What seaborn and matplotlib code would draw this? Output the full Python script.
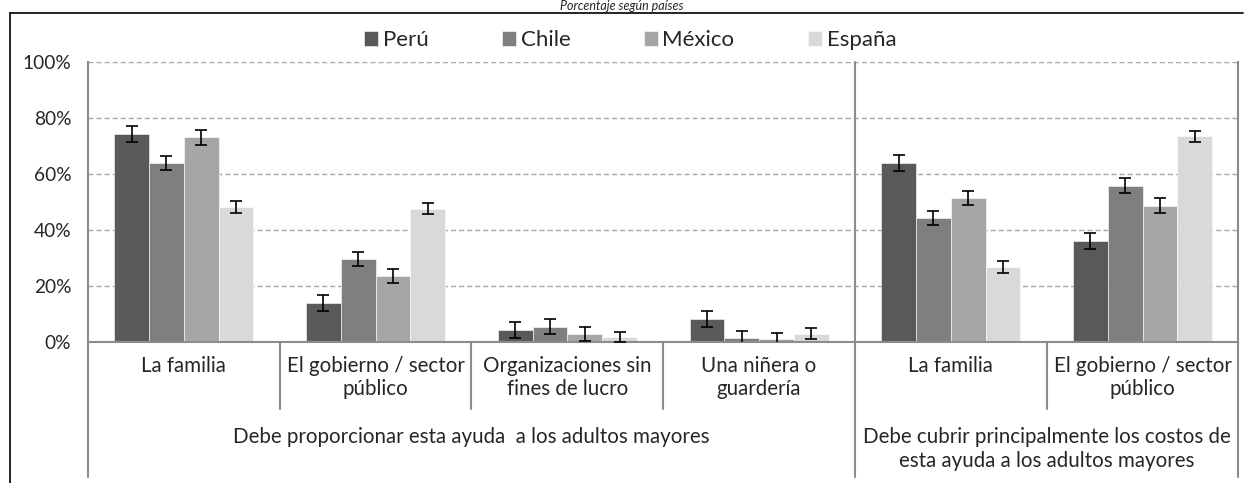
import numpy as np
import pandas as pd
import matplotlib
matplotlib.use("Agg")
import matplotlib.pyplot as plt
import seaborn as sns
from matplotlib.lines import Line2D

# ---------------- data ----------------
group_keys = ["g1", "g2", "g3", "g4", "g5", "g6"]
tick_labels = ["La familia", "El gobierno / sector\npúblico", "Organizaciones sin\nfines de lucro",
               "Una niñera o\nguardería", "La familia", "El gobierno / sector\npúblico"]
super_labels = ["Debe proporcionar esta ayuda  a los adultos mayores",
                "Debe cubrir principalmente los costos de\nesta ayuda a los adultos mayores"]
countries = ["Perú", "Chile", "México", "España"]

peru = [74.2, 13.9, 4.2, 8.1, 63.9, 36.2]
chile = [63.9, 29.6, 5.4, 1.5, 44.4, 55.8]
mexico = [73.1, 23.5, 3.0, 1.0, 51.4, 48.7]
espana = [48.1, 47.6, 1.8, 3.0, 26.8, 73.5]

err_peru = [2.9, 2.9, 2.9, 2.9, 2.9, 2.9]
err_chile = [2.5, 2.6, 2.7, 2.5, 2.5, 2.6]
err_mexico = [2.6, 2.6, 2.5, 2.3, 2.6, 2.6]
err_espana = [2.1, 2.0, 1.9, 2.0, 2.1, 2.0]

yticks = [0, 20, 40, 60, 80, 100]
ytick_labels = ["0%", "20%", "40%", "60%", "80%", "100%"]
colors = ["#595959", "#7f7f7f", "#a6a6a6", "#d9d9d9"]

values = [peru, chile, mexico, espana]
errors = [err_peru, err_chile, err_mexico, err_espana]

rows = []
for c, vals in zip(countries, values):
    for g, v in zip(group_keys, vals):
        rows.append({"grupo": g, "pais": c, "valor": v})
df = pd.DataFrame(rows)

# ---------------- figure ----------------
sns.set_style("white")
plt.rcParams["font.family"] = ["Lato", "DejaVu Sans"]

W, H = 1244, 483
fig = plt.figure(figsize=(W / 100, H / 100), dpi=100)
left, right, top, bottom = 88, 1238.5, 62, 342
ax = fig.add_axes([left / W, 1 - bottom / H, (right - left) / W, (bottom - top) / H])

sns.barplot(data=df, x="grupo", y="valor", hue="pais", order=group_keys, hue_order=countries,
            palette=colors, width=0.725, errorbar=None, ax=ax, saturation=1,
            edgecolor="white", linewidth=0.4)

for cont, errs in zip(ax.containers, errors):
    xs = [p.get_x() + p.get_width() / 2 for p in cont.patches]
    ys = [p.get_height() for p in cont.patches]
    ax.errorbar(xs, ys, yerr=errs, fmt="none", ecolor="black", elinewidth=1.2,
                capsize=4.3, capthick=1.2, zorder=5)

ax.set_ylim(0, 100)
ax.set_xlim(-0.5, 5.5)
ax.set_yticks(yticks)
ax.set_yticklabels(ytick_labels, fontsize=13.8)
ax.set_xticks(range(len(group_keys)))
ax.set_xticklabels(tick_labels, fontsize=14.8, linespacing=1.2)
ax.tick_params(axis="y", length=0, pad=12)
ax.tick_params(axis="x", length=0, pad=10)
ax.set_xlabel("")
ax.set_ylabel("")
ax.yaxis.grid(True, color="#a6a6a6", linestyle=(0, (3.6, 2.2)), linewidth=1)
ax.set_axisbelow(True)

ax.spines["top"].set_visible(False)
for s in ["left", "right", "bottom"]:
    ax.spines[s].set_color("#8c8c8c")
    ax.spines[s].set_linewidth(1.5)

# separators below the axis
trans = ax.get_xaxis_transform()
short_end = -(409 - 342) / 280
long_end = -(477 - 342) / 280
for xv in [0.5, 1.5, 2.5, 4.5]:
    ax.plot([xv, xv], [0, short_end], transform=trans, color="#8c8c8c", lw=1.5, clip_on=False)
for xv in [-0.5, 5.5]:
    ax.plot([xv, xv], [0, long_end], transform=trans, color="#8c8c8c", lw=1.5, clip_on=False)
ax.plot([3.5, 3.5], [1, long_end], transform=trans, color="#8c8c8c", lw=1.5, clip_on=False, zorder=6)

ax.text(1.5, -(437 - 342) / 280, super_labels[0], transform=trans, ha="center", va="center",
        fontsize=14.8)
ax.text(4.5, -(449 - 342) / 280, super_labels[1], transform=trans, ha="center", va="center",
        fontsize=14.8, linespacing=1.2)

# legend
handles, labels = ax.get_legend_handles_labels()
if ax.get_legend() is not None:
    ax.get_legend().remove()
fig.legend(handles, labels, loc="center", bbox_to_anchor=(630 / W, 1 - 40 / H), ncol=4,
           frameon=False, fontsize=16, handlelength=0.65, handleheight=0.65, handletextpad=0.2,
           columnspacing=3.3)

# outer frame (top and left) and title
fig.add_artist(Line2D([10 / W, 1243 / W], [1 - 13 / H, 1 - 13 / H], color="black", lw=1.2))
fig.add_artist(Line2D([10 / W, 10 / W], [1 - 13 / H, 0], color="black", lw=1.2))
fig.text(0.5, 1 - 6 / H, "Porcentaje según países", style="italic", ha="center", va="center",
         fontsize=9)

fig.savefig("out.png", dpi=100)
